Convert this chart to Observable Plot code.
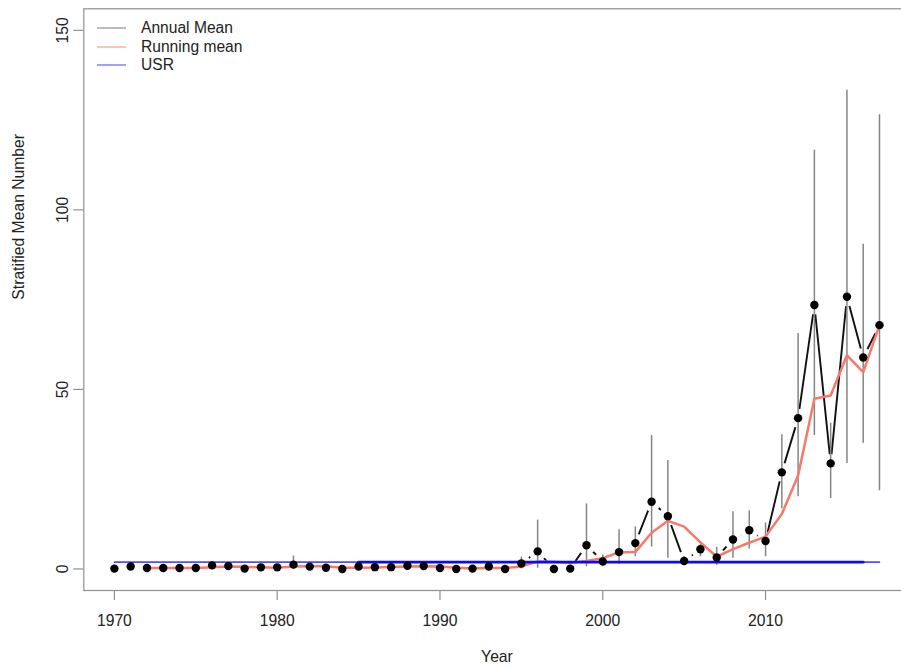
<!DOCTYPE html>
<html>
<head>
<meta charset="utf-8">
<script src="https://cdn.jsdelivr.net/npm/d3@7"></script>
<script src="https://cdn.jsdelivr.net/npm/@observablehq/plot@0.6"></script>
<style>
  html, body { margin: 0; padding: 0; background: #fff; overflow: hidden; }
  #wrap { position: relative; width: 901px; height: 666px; font-family: "Liberation Sans", Arial, sans-serif; }
  #legend { position: absolute; left: 97px; top: 19px; font-size: 15.6px; color: #222; line-height: 18.5px; }
  #legend .row { display: flex; align-items: center; height: 18.5px; }
  #legend svg { margin-right: 15px; }
</style>
</head>
<body>
<div id="wrap"></div>
<script>
// ---- data ----
const years = [1970,1971,1972,1973,1974,1975,1976,1977,1978,1979,
               1980,1981,1982,1983,1984,1985,1986,1987,1988,1989,
               1990,1991,1992,1993,1994,1995,1996,1997,1998,1999,
               2000,2001,2002,2003,2004,2005,2006,2007,2008,2009,
               2010,2011,2012,2013,2014,2015,2016,2017];
const annualMean = [0.1,0.7,0.25,0.25,0.25,0.25,1.0,0.8,0.1,0.45,
                    0.45,1.2,0.65,0.35,0.0,0.7,0.5,0.5,0.9,0.8,
                    0.25,0.0,0.1,0.7,0.0,1.5,4.9,0.0,0.1,6.6,
                    2.1,4.7,7.2,18.7,14.7,2.2,5.5,3.2,8.2,10.8,
                    7.8,26.9,42.0,73.5,29.4,75.8,58.9,67.9];
const lowerCI = [0,0.3,0,0,0,0,0.5,0.4,0,0.1,
                 0.1,0,0.3,0,0,0.3,0.1,0.1,0.4,0.3,
                 0,0,0,0.2,0,0,0.2,0,0,0.6,
                 0.6,1.3,3.4,6.1,3.0,1.0,3.4,1.0,3.0,5.5,
                 3.4,16.8,20.1,37.2,19.6,29.4,35.0,21.8];
const upperCI = [0.4,1.1,0.6,0.6,0.6,0.6,1.6,1.3,0.4,0.9,
                 0.9,3.6,1.1,0.8,0.3,1.2,1.0,1.0,1.5,1.4,
                 0.6,0.2,0.4,1.3,0.3,3.3,13.6,0.3,0.4,18.1,
                 3.9,10.9,11.7,37.2,30.2,3.5,6.9,6.0,15.9,16.2,
                 12.8,37.4,65.6,116.6,40.6,133.3,90.4,126.5];
const runYears = years.slice(2);
const runningMean = [0.3,0.25,0.25,0.25,0.5,0.7,0.6,0.45,
                     0.35,0.7,0.75,0.75,0.35,0.35,0.4,0.55,0.65,0.75,
                     0.65,0.35,0.1,0.25,0.25,0.7,2.1,2.0,1.7,2.2,
                     3.0,4.6,4.7,10.1,13.4,11.8,7.4,3.4,5.5,7.3,
                     9.0,15.3,26.0,47.4,48.3,59.5,54.8,67.9];
const usrValue = 1.9;
const usrFullYears = [1970, 2017];
const usrRecentYears = [1985, 2016];
const xTicks = [1970, 1980, 1990, 2000, 2010];
const yTicks = [0, 50, 100, 150];
const legendItems = [
  {label: "Annual Mean", color: "#9a9a9a"},
  {label: "Running mean", color: "#f7a49b"},
  {label: "USR", color: "#6b6bff"}
];

// ---- tables ----
const annual = years.map((y, i) => ({year: y, mean: annualMean[i], lo: lowerCI[i], hi: upperCI[i]}));
const running = runYears.map((y, i) => ({year: y, value: runningMean[i]}));
const usrFull = usrFullYears.map(y => ({year: y, value: usrValue}));
const usrRecent = usrRecentYears.map(y => ({year: y, value: usrValue}));

const font = "Liberation Sans, Arial, sans-serif";
const ink = "#222";
const axisGray = "#909090";

const chart = Plot.plot({
  width: 901,
  height: 666,
  marginLeft: 83.3,
  marginTop: 8.3,
  marginBottom: 76,
  marginRight: -8.6,
  style: {fontFamily: font, fontSize: "15.7px", color: ink, background: "#fff", overflow: "hidden"},
  x: {domain: [1968.12, 2018.88]},
  y: {domain: [-6, 156]},
  marks: [
    Plot.frame({stroke: axisGray, strokeWidth: 1.2}),
    Plot.axisX({ticks: xTicks, tickSize: 10, tickPadding: 14, stroke: axisGray, strokeWidth: 1.2, fill: ink, fontSize: 15.7, label: null, tickFormat: d => String(d)}),
    Plot.axisY({ticks: yTicks, tickSize: 10, tickPadding: 6, tickRotate: -90, stroke: axisGray, strokeWidth: 1.2, fill: ink, fontSize: 15.7, label: null}),
    Plot.text(["Year"], {frameAnchor: "bottom", dy: 71, fill: ink, fontSize: 15.7}),
    Plot.text(["Stratified Mean Number"], {frameAnchor: "left", dx: -65, rotate: -90, fill: ink, fontSize: 15.7}),
    // annual mean connecting line (type "b": gaps around points)
    Plot.line(annual, {x: "year", y: "mean", stroke: "#111", strokeWidth: 1.9}),
    Plot.dot(annual, {x: "year", y: "mean", r: 9.5, fill: "#fff", stroke: null}),
    // error bars
    Plot.ruleX(annual, {x: "year", y1: "lo", y2: "hi", stroke: "#858585", strokeWidth: 1.5}),
    // running mean
    Plot.line(running, {x: "year", y: "value", stroke: "#f8786a", strokeWidth: 2.5}),
    // USR
    Plot.line(usrFull, {x: "year", y: "value", stroke: "#4f4fff", strokeWidth: 1.6}),
    Plot.line(usrRecent, {x: "year", y: "value", stroke: "#0a0aff", strokeWidth: 2.8}),
    // points
    Plot.dot(annual, {x: "year", y: "mean", r: 4.2, fill: "#000", stroke: null})
  ]
});

const wrap = document.getElementById("wrap");
wrap.appendChild(chart);

const legend = document.createElement("div");
legend.id = "legend";
for (const item of legendItems) {
  const row = document.createElement("div");
  row.className = "row";
  row.innerHTML = `<svg width="29" height="4"><line x1="0" x2="29" y1="2" y2="2" stroke="${item.color}" stroke-width="1.3"/></svg><span>${item.label}</span>`;
  legend.appendChild(row);
}
wrap.appendChild(legend);
</script>
</body>
</html>
